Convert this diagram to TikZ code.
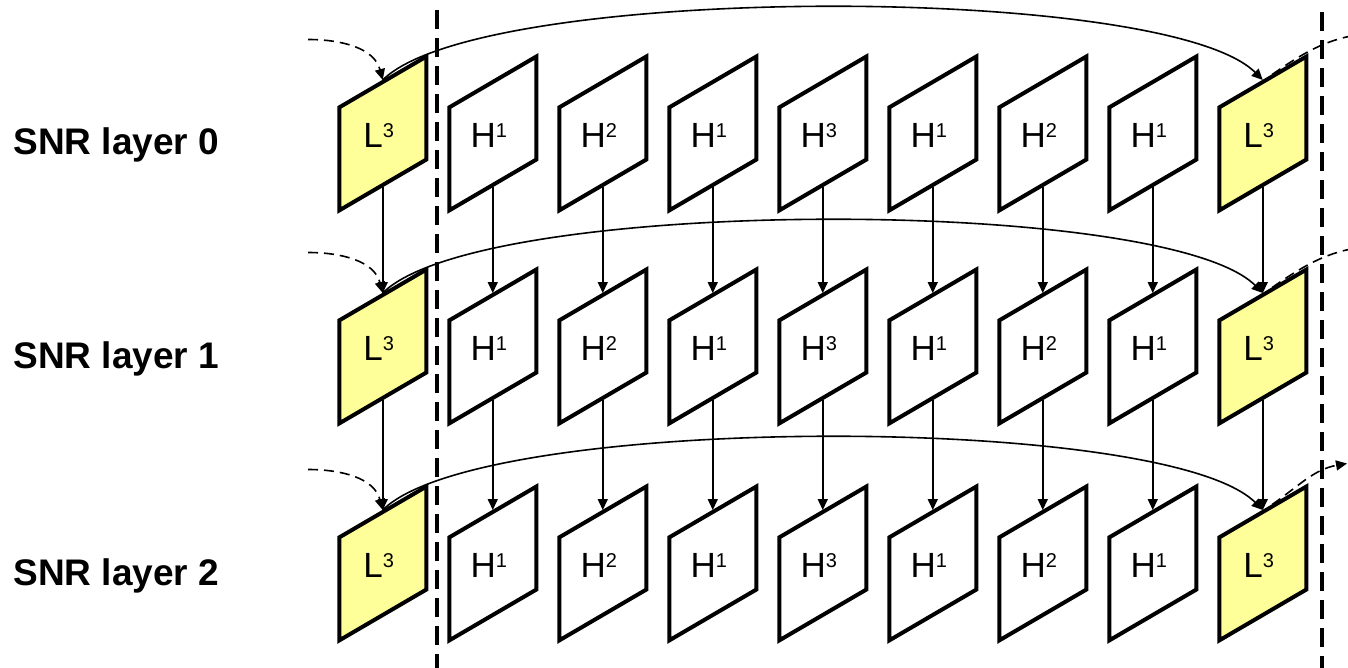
\documentclass[tikz,border=0pt]{standalone}
\usepackage{fontspec}
\setmainfont{Liberation Sans}
\usetikzlibrary{arrows.meta,calc}
\definecolor{lowfill}{HTML}{FFFF99}
\definecolor{ink}{HTML}{000000}
\newcommand\lay[2]{#1\raisebox{5pt}{\fontsize{10}{10}\selectfont #2}}

\begin{document}
\begin{tikzpicture}[x=0.5pt,y=-0.5pt,
  frame/.style={draw=ink,line width=2pt,minimum width=43.5pt,minimum height=51.5pt,inner sep=0pt,yslant=0.584},
  L box/.style={fill=lowfill},
  H box/.style={fill=white},
  boxtext/.style={font=\fontsize{17.5}{20}\selectfont,text=ink,xshift=-2pt,yshift=-1pt},
  rowlab/.style={anchor=base west,inner sep=0pt,font=\fontsize{18.5}{22}\selectfont\bfseries,text=ink},
  link/.style={draw=ink,line width=0.8pt,-{Triangle[length=5.5pt,width=5pt]}},
  feed/.style={link,dash pattern=on 5pt off 3pt},
  divider/.style={draw=ink,line width=2pt,dash pattern=on 9.5pt off 4.5pt}]
\useasboundingbox (0,0) rectangle (1348,668);
\foreach \r/\yy/\ex in {0/133.5/1365,1/346.5/1365,2/563.5/1347}{
  \node[rowlab] (lab\r) at (13,\yy+21.5) {SNR layer \r};
  \foreach \kind/\ep [count=\c from 0] in {L/3,H/1,H/2,H/1,H/3,H/1,H/2,H/1,L/3}
    \node[frame,\kind\space box,label={[boxtext]center:{\lay\kind\ep}}] (b\r\c) at (382.75+110*\c,\yy) {};
  \coordinate (src\r) at (308,\yy-94);
  \coordinate (dst\r) at (\ex,\yy-100);
  \draw[link] (b\r0.north) to[out=45,in=135,looseness=0.4] (b\r8.north);
  \draw[feed] (src\r) to[out=0,in=105] (b\r0.north);
  \draw[feed] (b\r8.80) to[out=35,in=190] (dst\r);
}
\foreach \c in {0,...,8}{
  \draw[link] (b0\c) -- (b1\c);
  \draw[link] (b1\c) -- (b2\c);
}
\draw[divider] (437,10) -- (437,668);
\draw[divider] (1322,12) -- (1322,668);
\end{tikzpicture}
\end{document}
